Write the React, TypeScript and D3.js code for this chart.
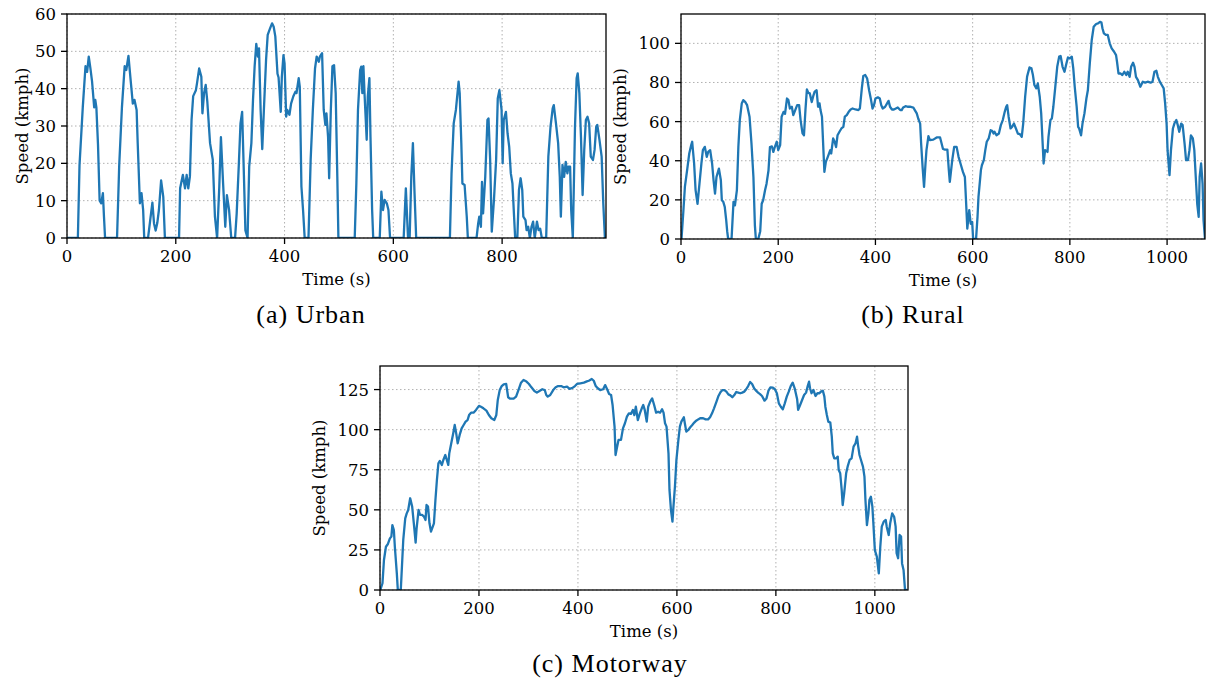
import React from "react";
import * as d3 from "d3";

// ---------- DATA ----------
const urbanTime = [0,20,23,29,34,37,40,43,46,50,52,54,57,60,63,66,68,70,
92,96,101,106,109,113,117,121,124,128,130,134,137,140,142,
149,153,157,160,163,166,169,173,177,180,
206,208,213,217,220,223,226,229,232,237,239,243,247,249,252,255,258,263,268,272,276,280,283,287,291,294,298,302,
309,312,316,319,322,325,328,332,
335,339,342,345,348,351,353,356,359,362,366,369,373,377,380,383,387,389,393,395,398,400,403,405,409,412,416,420,422,426,428,431,434,437,
444,448,452,456,459,463,465,469,472,475,477,480,482,485,488,491,494,497,499,
529,532,535,539,541,543,545,547,551,553,556,558,561,563,
575,578,581,584,588,591,594,
619,623,627,630,633,636,639,642,
704,707,711,715,720,722,725,727,731,735,737,
753,756,758,761,763,765,769,773,775,778,781,785,789,792,795,799,801,803,807,810,813,816,819,822,824,828,831,834,837,839,843,845,848,851,854,857,860,864,867,870,873,
881,885,889,893,895,899,903,906,908,911,914,917,920,922,925,927,930,934,937,939,942,945,948,951,954,957,960,963,967,970,973,975,979,983,986,989];
const urbanSpeed = [0,0,19.5,35,46,44.5,48.6,45.5,42,35,37,35,25,10,9.3,12,5.7,0,
0,19.5,35,46,45,48.8,42.3,36,37,34.3,25.4,9.3,12,7.5,0,
0,4.8,9.5,3.9,2,4,7.5,15.4,11,0,
0,13.3,16.9,13.3,16.9,13.3,16.5,31.6,38,39.6,41.4,45.4,43.2,33.4,38.8,41,36.5,25.4,21,5.7,0,13.8,27,14.6,3,11.5,7.5,0,
0,6.6,20,30.7,33.8,18.2,2,0,
19.1,25.4,37,46,52,48.6,50.8,34.3,23.8,34.3,47.7,54.4,56,57.5,56.6,54,44,43,33.8,43.2,49,46.8,32.5,34.3,33,36,37.9,39.2,38.8,42.8,40.5,13.8,7.5,0,
0,21,34.3,45.4,48.6,47.2,48.6,49.5,34.3,30.3,33.4,27.1,16,34,46,46.3,38.8,16.4,0,
0,14.6,34.3,45,45.9,38.8,46,38.8,26.3,37.9,42.8,27,7.5,0,
0,12.4,7.5,10.2,9.3,7.5,0,
0,13.3,0,0,16.4,25.4,12,0,
0,17.3,30.7,34.3,41.9,38.8,25.4,14.6,14.2,5.7,0,
0,3.9,5.7,3,15,6.6,16.4,31.6,32,21,1.7,10.2,21,37.4,39.6,34.3,20,31.6,33.8,28,24.5,17.3,14.6,5.7,0,0,12.9,16,12.9,5.7,4.8,2.1,3,0,3,4.4,0,4.4,2.1,2.5,0,
0,21.8,29.8,34.7,35.6,30.7,25.4,16.4,5.7,19.6,16.4,20.4,17.3,19.1,19.1,7.5,0,29.8,42.8,44.1,38.8,27,11.5,23.6,31.6,32.5,30.7,21.8,20.9,23.6,29.8,30.3,26.3,21.8,9.3,0];

const ruralTime = [0,1,5,8,13,17,21,23,27,30,34,38,42,45,49,53,56,60,64,67,70,73,78,82,84,87,90,93,95,97,104,108,111,115,118,121,125,128,132,136,141,145,149,152,154,159,163,166,169,173,176,180,183,187,190,193,197,200,204,207,211,214,218,221,224,228,231,235,239,243,246,250,253,256,259,262,265,269,272,275,279,282,285,287,290,293,295,298,302,307,309,313,316,319,322,326,330,334,337,341,345,349,353,359,365,368,372,375,379,383,387,391,394,397,400,405,409,412,415,420,424,427,430,434,438,442,446,451,454,457,462,466,471,478,481,485,488,492,494,497,500,503,505,509,512,519,526,533,
539,543,548,551,553,558,562,567,571,575,580,584,586,589,593,596,599,601,607,610,612,617,619,623,626,629,633,637,640,643,645,649,654,658,662,666,669,671,674,678,681,685,689,693,697,701,704,708,712,717,721,724,727,731,734,738,741,744,746,749,754,756,760,763,766,770,774,778,781,785,789,793,796,800,804,807,810,814,817,819,823,826,830,834,837,841,845,849,854,858,862,865,867,870,874,878,882,886,891,895,897,900,904,908,912,916,919,923,926,930,933,936,940,945,950,955,960,966,970,974,978,981,985,989,993,996,999,1001,1005,1008,1012,1015,1019,1022,1025,1029,1032,1036,1039,1043,1046,1049,1053,1056,1059,1062,1065,1067,1070,1073,1075,1078];
const ruralSpeed = [0,0,14.7,26.6,36,43.7,48,49.7,38.6,25,18,28.3,38.6,45.4,47.1,42,44.5,45.4,38.6,30,23.2,31.7,36,30,19.8,19,16.4,9.6,4,0,0,19,17.2,25,47,60.8,69.3,71,70.1,68.4,62.5,48.8,31.7,7,0,0,4,18,19.8,25,28.3,35,47,47.3,44.5,47,49.7,45.4,48,62.5,65,64,71.8,71,66.7,67.6,63.3,65.9,68.4,68.4,60.8,54,53,65.9,76.5,74.7,74.4,70,73,75.3,76,67.6,69.3,65.9,62.5,45.4,34.3,39.4,42,45.4,43.7,51.4,49.7,47,53,54.8,56.5,57.3,62.5,63.3,65,66.2,66.7,66.2,65.9,66.7,77,83.3,83.8,82,76,71,66.7,68.4,71.8,72.4,71.8,68.4,66.7,67.6,69.3,70.6,67.6,66.2,66.2,66.7,67.2,65.9,65.9,67.2,67.9,67.6,67.6,67.2,65.9,64.2,61.6,59,48.8,36.9,26.6,38.6,45.4,52.6,50.5,50.8,51.9,51.9,
46,45.7,45.7,35.2,29.2,40.3,47.1,47.1,42,38.6,34.3,31.7,21.5,5.3,14.7,7.8,8.7,0,0,11.3,21.5,35.2,37.7,40.3,45.4,49.7,51.4,55.6,55.3,53.9,54.8,53,53.9,58.2,60.8,65,67.6,68.4,62.5,56.5,57.3,59,56.5,53.9,53.6,52.2,59,72.7,83,87.7,87.2,83.8,78.7,77,79.5,72.7,64.2,48.8,38.6,45.4,44.5,52.2,60.8,61.6,67.6,77.8,88,93.2,93.5,88,85.5,89.8,92.8,92.3,93.2,87.2,77.8,67.6,57.3,56.5,53,59,64.2,71.8,76,89.8,101.7,108.5,109.9,110.2,111,110.6,107.7,105.1,104.3,104.3,100,97.4,95.7,94,90.6,84.6,84.6,83.8,85.5,83.8,85.5,82.9,88,90.1,88,82.9,81.2,77.8,80.4,79.9,80.4,79.9,80.4,85.5,86,82.9,80.4,78.7,77,69.3,59,45.4,32.6,45.4,56.5,59,60.8,58.2,54.8,59,58.2,48.8,40.3,40.3,45.4,53,51.4,45.4,31.7,18,11.3,31.7,38.6,28.3,9.6,0];

const motorwayTime = [0,1,5,8,12,16,20,23,25,28,30,34,36,42,45,47,51,54,57,61,65,69,72,74,78,81,85,89,92,94,97,100,103,107,109,112,115,118,121,125,128,132,135,138,140,144,148,151,154,157,161,165,169,173,177,180,184,189,194,200,204,209,215,220,225,231,235,238,242,246,250,255,259,263,270,275,281,285,290,296,301,306,312,317,323,328,333,336,339,344,350,355,360,366,371,378,383,389,394,398,405,412,418,422,428,432,436,440,445,451,455,459,463,467,470,474,476,479,482,487,491,495,499,503,507,511,514,517,
521,525,529,532,535,539,542,546,550,554,558,562,566,570,573,576,579,583,585,588,591,593,596,599,603,606,609,614,616,619,623,627,631,635,639,643,647,653,658,663,667,671,675,680,684,688,692,696,700,704,708,712,716,720,724,728,732,736,740,744,748,752,756,760,764,768,772,777,781,785,789,794,798,802,806,810,814,818,822,826,830,834,838,843,845,849,853,857,861,864,867,869,872,876,880,884,888,891,895,898,900,903,906,910,913,915,918,922,925,927,930,933,935,938,942,945,949,953,957,961,964,966,969,972,976,979,981,984,987,989,992,995,997,1000,1004,1008,1011,1014,1018,1022,1024,1028,1031,1035,1039,1042,1044,1047,1050,1053,1055,1058,1061,1065];
const motorwaySpeed = [0,0.4,4.2,18.7,27,28.7,32.2,33.3,40.5,37.4,27,10.4,0,0,18.7,31.2,44.7,47.8,49.9,57.2,52,39.5,29.5,38.5,49.9,46.8,46.8,45.7,43.7,53,52,41.6,36.4,39.9,41.6,56.1,68.6,79,80.5,78,81.1,84.2,81.1,78,85.2,91.5,97.7,102.9,97.7,91.5,96.7,100.8,102.9,105,106,109.1,110.6,110.6,112.3,114.8,114.3,113.3,111.9,109.1,107.1,106,109.1,118.5,124.7,127.2,128.3,128.5,120.2,119.3,119.3,120.6,125.8,129.3,131,130,128.5,126.4,124.1,123.1,124.3,125.2,124.7,121.6,120.6,121.6,124.7,126.4,127.2,127.2,126.4,126.8,125.4,126,127.2,128.5,128.9,129.3,130.1,130.5,131.6,130.5,127.2,125.8,124.7,125.2,127.8,125.2,122.2,121.6,115.4,101.9,84.2,89,93.6,93.6,100.8,104,108.1,110.2,109.8,112.3,109.1,114.3,
106,110,113.3,115.4,112.3,105,114.3,117.5,119.5,115.4,110.6,111.2,110.6,112.7,110.6,104,101.9,85.2,62.4,49.9,42.6,52,64.4,81.1,93.6,101.9,105,107.7,104,98.8,99.8,101.5,102.9,104.4,105.6,106.4,107.1,107.1,106.4,106.4,107.7,110.2,113.3,117.5,121,123.3,124.7,124.7,123.7,122,121.4,120.2,121.6,123.5,123.1,122.7,123.1,123.7,125.2,127.2,129.7,128.5,125.8,124.3,123.1,122.2,121,118.1,119.5,124.3,126.4,126.2,125.2,122.7,116.4,114.3,112.7,116.4,120.6,123.7,127.2,129.3,125.8,118.9,112.3,115.4,118.5,121.6,123.1,126.8,129.9,125.8,122.7,124.7,121,122.7,122.7,123.7,124.3,120.6,114.3,109.1,105,104.4,95.6,85.2,82.1,82.1,83.2,74.8,72.8,62.4,53,60.3,72.8,76.9,81.1,82.1,89.4,91.5,95.6,90.4,84.2,81.1,76.9,70.7,56.1,40.5,47.8,56.1,58.2,52,41.6,24.9,20.8,10.4,27,39.5,42.6,43.7,39.5,34.3,41.6,47.8,45.7,39.5,22.9,19.8,34.3,33.3,16.6,12.5,0,0];

const urbanXTicks = [0, 200, 400, 600, 800];
const urbanYTicks = [0, 10, 20, 30, 40, 50, 60];
const ruralXTicks = [0, 200, 400, 600, 800, 1000];
const ruralYTicks = [0, 20, 40, 60, 80, 100];
const motorwayXTicks = [0, 200, 400, 600, 800, 1000];
const motorwayYTicks = [0, 25, 50, 75, 100, 125];
const captions = ["(a) Urban", "(b) Rural", "(c) Motorway"];
const xLabel = "Time (s)";
const yLabel = "Speed (kmph)";

// ---------- LAYOUT ----------
const W = 1206;
const H = 682;
const LINE = "#1f77b4";
const TICK_FONT = "'DejaVu Serif', serif";
const CAP_FONT = "'Liberation Serif', 'Times New Roman', serif";

type Panel = {
  id: string;
  t: number[];
  v: number[];
  l: number; r: number; top: number; b: number;
  xMax: number; yMax: number;
  xTicks: number[]; yTicks: number[];
  caption: string; capX: number; capY: number;
  ylabX: number;
};

const panels: Panel[] = [
  { id: "a", t: urbanTime, v: urbanSpeed, l: 67, r: 606, top: 14, b: 238, xMax: 991, yMax: 60,
    xTicks: urbanXTicks, yTicks: urbanYTicks, caption: captions[0], capX: 311, capY: 323, ylabX: 28 },
  { id: "b", t: ruralTime, v: ruralSpeed, l: 681, r: 1205, top: 14, b: 239, xMax: 1078, yMax: 115,
    xTicks: ruralXTicks, yTicks: ruralYTicks, caption: captions[1], capX: 913, capY: 323, ylabX: 626 },
  { id: "c", t: motorwayTime, v: motorwaySpeed, l: 380, r: 908, top: 366, b: 590, xMax: 1067, yMax: 139.7,
    xTicks: motorwayXTicks, yTicks: motorwayYTicks, caption: captions[2], capX: 610, capY: 672, ylabX: 325 },
];

function PanelView({ p }: { p: Panel }) {
  const x = d3.scaleLinear().domain([0, p.xMax]).range([p.l, p.r]);
  const y = d3.scaleLinear().domain([0, p.yMax]).range([p.b, p.top]);
  const pts: [number, number][] = p.t.map((t, i) => [t, p.v[i]]);
  const line = d3.line<[number, number]>().x((d) => x(d[0])).y((d) => y(d[1]));
  const clipId = `clip-${p.id}`;
  const midY = (p.top + p.b) / 2;
  const midX = (p.l + p.r) / 2;
  return (
    <g>
      <defs>
        <clipPath id={clipId}>
          <rect x={p.l} y={p.top} width={p.r - p.l} height={p.b - p.top} />
        </clipPath>
      </defs>
      {/* grid */}
      {p.xTicks.map((t) => (
        <line key={`gx${t}`} x1={x(t)} x2={x(t)} y1={p.top} y2={p.b}
          stroke="#b0b0b0" strokeWidth={1} strokeDasharray="1.5,2.5" />
      ))}
      {p.yTicks.map((t) => (
        <line key={`gy${t}`} x1={p.l} x2={p.r} y1={y(t)} y2={y(t)}
          stroke="#b0b0b0" strokeWidth={1} strokeDasharray="1.5,2.5" />
      ))}
      <path d={line(pts) || ""} fill="none" stroke={LINE} strokeWidth={2.3}
        strokeLinejoin="round" strokeLinecap="butt" clipPath={`url(#${clipId})`} />
      <rect x={p.l} y={p.top} width={p.r - p.l} height={p.b - p.top}
        fill="none" stroke="#000" strokeWidth={1.3} />
      {p.xTicks.map((t) => (
        <g key={`tx${t}`}>
          <line x1={x(t)} x2={x(t)} y1={p.b} y2={p.b + 6} stroke="#000" strokeWidth={1.3} />
          <text x={x(t)} y={p.b + 24} textAnchor="middle" fontFamily={TICK_FONT} fontSize={16.5} fill="#000">{t}</text>
        </g>
      ))}
      {p.yTicks.map((t) => (
        <g key={`ty${t}`}>
          <line x1={p.l - 6} x2={p.l} y1={y(t)} y2={y(t)} stroke="#000" strokeWidth={1.3} />
          <text x={p.l - 11} y={y(t) + 6} textAnchor="end" fontFamily={TICK_FONT} fontSize={16.5} fill="#000">{t}</text>
        </g>
      ))}
      <text x={midX} y={p.b + 47} textAnchor="middle" fontFamily={TICK_FONT} fontSize={16.5} fill="#000">{xLabel}</text>
      <text transform={`translate(${p.ylabX},${midY}) rotate(-90)`} textAnchor="middle"
        fontFamily={TICK_FONT} fontSize={16.5} fill="#000">{yLabel}</text>
      <text x={p.capX} y={p.capY} textAnchor="middle" fontFamily={CAP_FONT} fontSize={26}
        letterSpacing={1} fill="#000">{p.caption}</text>
    </g>
  );
}

export default function App() {
  return (
    <div style={{ position: "absolute", left: 0, top: 0, width: W, height: H, background: "#fff" }}>
      <svg width={W} height={H} viewBox={`0 0 ${W} ${H}`} style={{ display: "block" }}>
        <rect x={0} y={0} width={W} height={H} fill="#fff" />
        {panels.map((p) => (
          <PanelView key={p.id} p={p} />
        ))}
      </svg>
    </div>
  );
}
